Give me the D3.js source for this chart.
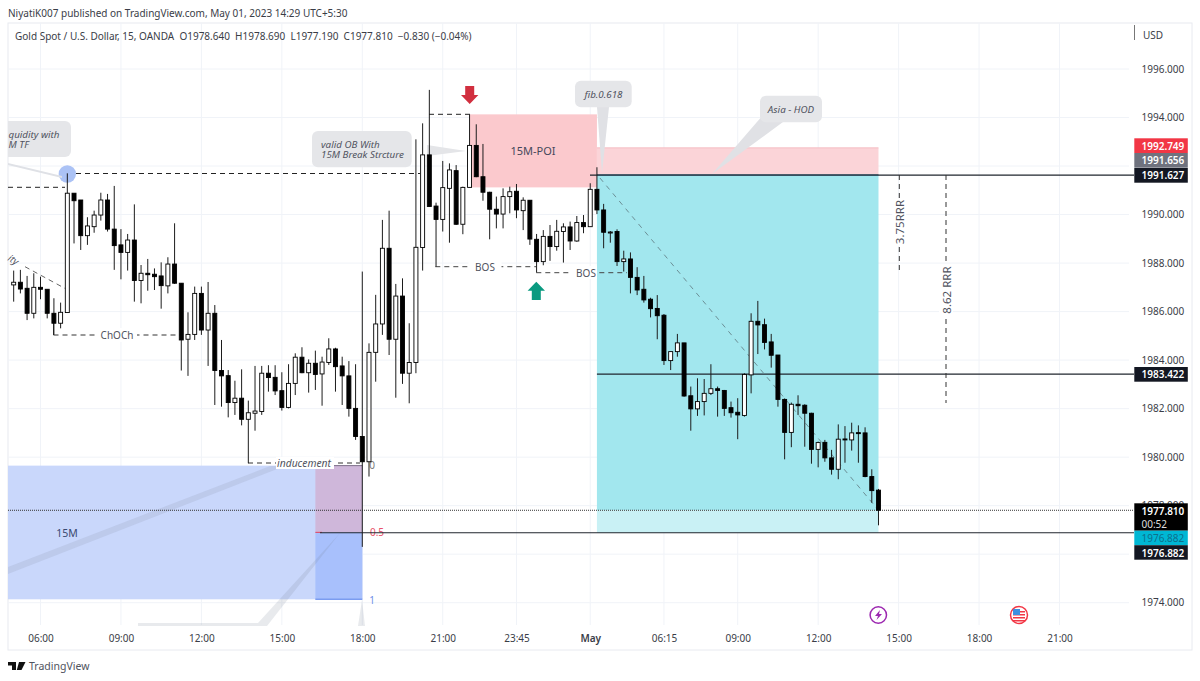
<!DOCTYPE html>
<html>
<head>
<meta charset="utf-8">
<script src="https://cdn.jsdelivr.net/npm/d3@7/dist/d3.min.js"></script>
<style>
  html, body { margin: 0; padding: 0; background: #fff; }
  svg { display: block; }
  text { font-family: "Noto Sans", sans-serif; fill: #3a3d47; }
  .note { font-style: italic; font-size: 9.8px; fill: #50535e; }
  .draw { font-size: 10px; fill: #50535e; }
</style>
</head>
<body>
<svg id="chart" width="1200" height="681"></svg>
<script>
// 15 minute bars, the first one is 05:00
var opens = [
  1987.10,1987.21,1986.96,1985.93,1987.00,1986.92,1985.93,1985.52,1985.96,1990.88,
  1990.60,1989.13,1989.50,1989.98,1990.60,1989.40,1988.75,1988.44,1988.95,1987.28,
  1987.58,1987.54,1987.47,1987.06,1987.96,1987.17,1984.86,1985.06,1986.75,1985.24,
  1985.93,1983.57,1983.36,1982.25,1982.43,1981.56,1981.81,1981.88,1983.46,1983.29,
  1982.74,1982.05,1983.04,1984.12,1983.48,1983.87,1983.43,1983.90,1984.46,1983.76,
  1983.35,1982.01,1980.85,1979.81,1984.32,1985.49,1988.61,1984.86,1986.64,1983.46,
  1983.90,1988.64,1992.46,1990.35,1989.80,1991.08,1991.81,1989.60,1991.12,1992.85,
  1991.56,1990.92,1990.22,1990.02,1990.74,1990.96,1990.16,1990.59,1988.98,1988.06,
  1989.10,1988.68,1989.30,1989.49,1988.91,1989.67,1989.50,1991.04,1990.19,1989.25,
  1989.30,1988.06,1988.17,1987.41,1986.92,1986.51,1986.13,1985.85,1983.98,1984.35,
  1984.71,1982.53,1981.99,1982.29,1982.63,1982.82,1982.75,1982.04,1981.85,1981.72,
  1983.39,1985.60,1985.46,1984.75,1984.21,1982.38,1981.02,1982.18,1982.14,1981.81,
  1980.32,1980.61,1979.97,1979.50,1980.75,1980.71,1981.01,1981.00,1979.20,1978.64
];
var highs = [
  1987.69,1987.72,1987.47,1987.58,1987.44,1986.92,1986.55,1986.37,1991.70,1990.88,
  1990.60,1989.89,1990.16,1990.90,1990.85,1991.18,1989.40,1989.20,1990.42,1987.92,
  1988.17,1987.78,1988.03,1988.24,1989.64,1987.17,1985.97,1987.03,1987.03,1987.22,
  1986.27,1984.83,1983.59,1983.15,1983.62,1982.33,1983.76,1983.76,1983.79,1983.79,
  1983.50,1983.83,1984.28,1984.53,1984.03,1984.39,1984.14,1984.90,1984.51,1984.14,
  1983.96,1983.83,1987.65,1984.69,1986.69,1989.78,1990.16,1987.14,1987.37,1985.52,
  1993.10,1993.76,1995.14,1990.49,1992.21,1992.11,1992.04,1991.15,1994.13,1993.72,
  1992.91,1990.94,1990.74,1991.08,1991.15,1991.26,1990.71,1990.60,1989.20,1989.36,
  1989.57,1989.78,1989.64,1989.71,1989.94,1989.98,1991.29,1991.95,1990.44,1989.32,
  1989.39,1988.51,1988.44,1987.83,1987.47,1986.57,1986.68,1985.90,1984.35,1985.08,
  1984.71,1982.91,1983.25,1983.22,1983.83,1982.91,1982.77,1982.29,1982.43,1983.46,
  1985.93,1986.44,1985.71,1985.08,1984.21,1982.42,1982.25,1982.55,1982.18,1981.83,
  1980.64,1980.71,1980.30,1981.35,1981.28,1981.42,1981.31,1981.23,1979.50,1978.69
];
var lows = [
  1986.41,1986.75,1985.65,1985.72,1986.51,1985.72,1985.04,1985.31,1985.96,1988.81,
  1988.54,1988.75,1989.25,1989.75,1989.30,1987.72,1987.33,1987.69,1986.41,1986.34,
  1986.86,1986.89,1986.12,1986.75,1987.14,1983.57,1983.35,1984.83,1985.04,1983.76,
  1982.15,1982.08,1981.64,1981.74,1981.31,1979.75,1981.09,1981.74,1982.70,1982.56,
  1981.92,1982.01,1982.56,1983.46,1982.66,1982.77,1982.12,1983.80,1982.70,1982.15,
  1981.67,1980.71,1976.30,1979.20,1983.11,1985.04,1984.21,1982.45,1983.02,1982.22,
  1983.46,1987.69,1990.33,1987.85,1989.30,1988.84,1989.57,1989.19,1991.12,1991.54,
  1990.57,1988.98,1989.43,1989.43,1990.05,1989.85,1989.36,1988.75,1987.61,1987.91,
  1988.09,1988.51,1988.02,1988.54,1988.88,1989.23,1989.50,1990.02,1988.61,1988.84,
  1987.88,1987.65,1986.75,1986.68,1986.37,1985.76,1984.86,1983.80,1983.59,1984.14,
  1982.49,1981.09,1981.70,1981.72,1982.56,1981.67,1981.70,1981.63,1980.74,1981.67,
  1982.63,1984.25,1984.44,1983.69,1982.08,1979.91,1980.41,1981.74,1980.43,1979.73,
  1979.58,1979.81,1979.28,1979.09,1979.77,1980.27,1979.77,1979.17,1978.12,1977.19
];
var closes = [
  1987.21,1986.93,1985.93,1987.00,1986.92,1985.93,1985.52,1985.97,1990.88,1990.57,
  1989.13,1989.53,1989.98,1990.60,1989.40,1988.72,1988.44,1988.95,1987.28,1987.58,
  1987.52,1987.44,1987.07,1987.96,1987.17,1984.83,1985.06,1986.75,1985.24,1985.93,
  1983.57,1983.35,1982.25,1982.43,1981.56,1981.83,1981.90,1983.46,1983.28,1982.73,
  1982.05,1983.04,1984.12,1983.48,1983.87,1983.41,1983.92,1984.46,1983.73,1983.35,
  1982.01,1980.85,1979.81,1984.32,1985.49,1988.61,1984.86,1986.64,1983.46,1983.90,
  1988.65,1992.46,1990.33,1989.80,1991.11,1991.84,1989.60,1991.12,1992.85,1991.56,
  1990.92,1990.22,1990.02,1990.74,1990.94,1990.19,1990.59,1988.99,1988.06,1989.10,
  1988.68,1989.31,1989.49,1988.91,1989.67,1989.50,1991.04,1990.19,1989.27,1989.28,
  1988.06,1988.17,1987.41,1986.89,1986.48,1986.12,1985.83,1983.98,1984.35,1984.71,
  1982.52,1981.99,1982.29,1982.63,1982.82,1982.75,1982.01,1981.83,1981.74,1983.41,
  1985.60,1985.45,1984.73,1984.20,1982.38,1981.02,1982.18,1982.12,1981.81,1980.32,
  1980.60,1979.97,1979.50,1980.74,1980.71,1981.00,1980.97,1979.20,1978.62,1977.81
];

var priceTicks = [1974,1976,1978,1980,1982,1984,1986,1988,1990,1992,1994,1996];
var hiddenPriceLabels = [1976, 1992];   // these sit fully behind the price tags
var timeTickBars = [4,16,28,40,52,64,75,86,97,108,120,132,144,156];
var timeTickLabels = ["06:00","09:00","12:00","15:00","18:00","21:00","23:45","May","06:15","09:00","12:00","15:00","18:00","21:00"];

var targetLevels = [1991.627, 1983.422, 1976.882];
var poiHigh = 1994.13, poiLow = 1991.12;
var asiaHigh = 1992.749, entry = 1991.627, lastClose = 1977.81, stop = 1976.882;
var fibTop = 1979.65, fibMid = 1976.9, fibBottom = 1974.14;

var svg = d3.select("#chart");

var x = d3.scaleLinear().domain([4, 156]).range([40.5, 1059.5]);
var y = d3.scaleLinear().domain([1974, 1996]).range([602.7, 69]);

var left = 8, right = 1134, top_ = 23, bottom = 625;

// frame
svg.append("rect").attr("x", left).attr("y", top_).attr("width", 1184).attr("height", 627)
    .attr("fill", "#fff").attr("stroke", "#e8eaf0");

var xAxis = d3.axisBottom(x).tickValues(timeTickBars)
    .tickFormat(function(d, i) { return timeTickLabels[i]; }).tickSize(0);
var yAxis = d3.axisRight(y).tickValues(priceTicks)
    .tickFormat(function(d) { return hiddenPriceLabels.indexOf(d) >= 0 ? "" : d.toFixed(3); }).tickSize(0);

// grid
svg.append("g").selectAll("line").data(timeTickBars).enter().append("line")
    .attr("x1", x).attr("x2", x).attr("y1", top_).attr("y2", bottom)
    .attr("stroke", "#f0f3f8");
svg.append("g").selectAll("line").data(priceTicks).enter().append("line")
    .attr("x1", left).attr("x2", right - 5).attr("y1", y).attr("y2", y)
    .attr("stroke", "#f0f3f8");

function box(bar0, bar1, p0, p1, color) {
    svg.append("rect")
        .attr("x", bar0 === null ? left : x(bar0)).attr("y", y(p0))
        .attr("width", x(bar1) - (bar0 === null ? left : x(bar0)))
        .attr("height", y(p1) - y(p0)).attr("fill", color);
}
function poly(points, color) {
    svg.append("polygon").attr("points", points).attr("fill", color);
}
function dashed(x1, y1, x2, y2, color, dash) {
    svg.append("line").attr("x1", x1).attr("y1", y1).attr("x2", x2).attr("y2", y2)
        .attr("stroke", color || "#222").attr("stroke-dasharray", dash || "5 4");
}
function label(str, px, py, cls, anchor, color, size) {
    var t = svg.append("text").attr("x", px).attr("y", py).attr("class", cls || "draw")
        .attr("text-anchor", anchor || "middle").attr("dominant-baseline", "central").text(str);
    if (color) t.style("fill", color);
    if (size) t.style("font-size", size + "px");
    return t;
}

// 15M zone and fib box
box(null, 52, fibTop, fibBottom, "#c9d7fb");
box(45, 52, fibTop, fibMid, "#cfb7da");
box(45, 52, fibMid, fibBottom, "#a8c0fc");
svg.append("line").attr("x1", x(45)).attr("x2", x(52)).attr("y1", y(fibBottom)).attr("y2", y(fibBottom))
    .attr("stroke", "#7b9cf0").attr("stroke-width", 1.5);
svg.append("line").attr("x1", x(45)).attr("x2", x(52)).attr("y1", y(fibTop)).attr("y2", y(fibTop))
    .attr("stroke", "#7c6d86");
svg.append("line").attr("x1", x(45)).attr("x2", 322).attr("y1", y(fibMid)).attr("y2", y(fibMid))
    .attr("stroke", "#e0405a");
label("15M", 67, 532.5, "draw", "middle", "#3a4a70", 10.5);
label("0", 372, 465, "draw", "middle", "#777");
label("0.5", 377, 532, "draw", "middle", "#e8506a");
label("1", 372, 599.5, "draw", "middle", "#6f8fe8");

// callout tails that come from notes off the chart
poly("8,567 8,574 285,466 270,466", "rgba(120,130,150,0.15)");
poly("340,533 258,623 138,623 138,626 267,626", "rgba(120,130,150,0.17)");
poly("358,626 365,626 362,600", "rgba(120,130,150,0.17)");

// POI and trade boxes
box(68, 87, poiHigh, poiLow, "#fbc9cd");
label("15M-POI", 533, 150, "draw", "middle", "#44475a", 11);
box(87, 129, asiaHigh, entry, "#fbd4d8");
box(87, 129, entry, lastClose, "#a2e7ee");
box(87, 129, lastClose, stop, "#c9f1f5");
svg.append("line").attr("x1", x(87)).attr("x2", x(129)).attr("y1", y(asiaHigh)).attr("y2", y(asiaHigh))
    .attr("stroke", "#f5bcc3");

// target lines
var lineStarts = [590, x(87), 320];
svg.append("g").selectAll("line").data(targetLevels).enter().append("line")
    .attr("x1", function(d, i) { return lineStarts[i]; }).attr("x2", right)
    .attr("y1", y).attr("y2", y).attr("stroke", "#20262e").attr("stroke-width", 1.1);
svg.append("line").attr("x1", x(87)).attr("x2", x(129)).attr("y1", y(entry)).attr("y2", y(entry))
    .attr("stroke", "#35505f").attr("stroke-width", 1.8);

// last price line
svg.append("line").attr("x1", left).attr("x2", right).attr("y1", y(lastClose)).attr("y2", y(lastClose))
    .attr("stroke", "#333").attr("stroke-dasharray", "1 1");

// diagonal
dashed(x(87) + 3, 178, x(129), y(lastClose), "#6c8f96", "5 5");

// structure lines
dashed(left, 187.3, 65, 187.3);
dashed(67, 173.5, 420, 173.5);
svg.append("circle").attr("cx", x(8)).attr("cy", 174).attr("r", 8.7).attr("fill", "#abc2f5");
poly("8,163 8,165 62,178 62,176", "#dfe1e6");
dashed(25, 266.7, 71, 291.7, "#666");
dashed(53.5, 335, 180, 335, "#333");
dashed(248, 463, 360, 463, "#333");
dashed(429, 114.3, 470, 114.3);
dashed(435.3, 266.7, 536, 266.7, "#444");
dashed(536.3, 272.7, 627, 272.7, "#444");
svg.append("line").attr("x1", 53.5).attr("x2", 53.5).attr("y1", 320).attr("y2", 335).attr("stroke", "#333");

// grey note tails under the candles
poly("427,145 427,156 466,151", "#e4e5e8");
poly("597,107 609,107 602,173", "#e0e1e5");
poly("763,115 783,122 712,174", "#e0e1e5");

// candles
var bars = d3.range(opens.length);
svg.append("g").selectAll("line").data(bars).enter().append("line")
    .attr("x1", x).attr("x2", x)
    .attr("y1", function(i) { return y(highs[i]); })
    .attr("y2", function(i) { return y(lows[i]); })
    .attr("stroke", "#1c1c1c").attr("stroke-width", 1);
svg.append("g").selectAll("rect").data(bars).enter().append("rect")
    .attr("x", function(i) { return x(i) - 2; })
    .attr("width", 4)
    .attr("y", function(i) { return y(Math.max(opens[i], closes[i])); })
    .attr("height", function(i) { return Math.max(1, Math.abs(y(opens[i]) - y(closes[i]))); })
    .attr("fill", function(i) { return closes[i] >= opens[i] ? "#fff" : "#000"; })
    .attr("stroke", "#000").attr("stroke-width", 0.9);

// text on the structure lines
function tagged(str, px, py, w) {
    svg.append("rect").attr("x", px - w / 2).attr("y", py - 7).attr("width", w).attr("height", 14).attr("fill", "#fff");
    label(str, px, py);
}
tagged("ChOCh", 117, 335, 40);
tagged("BOS", 485, 266.5, 33);
svg.append("rect").attr("x", 569).attr("y", 266).attr("width", 28).attr("height", 13).attr("fill", "#fff");
label("BOS", 586, 272.5);
svg.append("rect").attr("x", 276).attr("y", 457).attr("width", 58).attr("height", 12).attr("fill", "#fff");
label("inducement", 304, 463, "note").style("font-size", "10.3px");

// notes
function note(x0, y0, x1, y1, lines, tx, anchor) {
    svg.append("rect").attr("x", x0).attr("y", y0).attr("width", x1 - x0).attr("height", y1 - y0)
        .attr("rx", 6).attr("fill", "#e5e6e9");
    var mid = (y0 + y1) / 2 - (lines.length - 1) * 5;
    lines.forEach(function(s, i) {
        label(s, tx, mid + i * 10, "note", anchor);
    });
}
note(312, 131, 411.7, 167.3, ["valid OB With", "15M Break Strcture"], 321, "start");
note(575, 80.7, 631.7, 107.3, ["fib.0.618"], 603.5);
note(760, 95.7, 822, 122.3, ["Asia - HOD"], 791);

// this note runs off the left edge of the chart, only its end shows
svg.append("path").attr("d", "M8,121 H65 a6,6 0 0 1 6,6 V151 a6,6 0 0 1 -6,6 H8 Z").attr("fill", "#e5e6e9");
label("quidity with", 8.5, 134.5, "note", "start");
label("M TF", 8.5, 144.5, "note", "start");
label("ity", 9, 257, "note", "start").attr("transform", "rotate(33 9 257)");

// risk reward
dashed(899.3, 175, 899.3, 271, "#333");
dashed(946, 175, 946, 403, "#333");
[["3.75RRR", 899.3, 222, 48], ["8.62 RRR", 946, 290, 52]].forEach(function(d) {
    svg.append("rect").attr("x", d[1] - 7).attr("y", d[2] - d[3] / 2).attr("width", 14).attr("height", d[3]).attr("fill", "#fff");
    label(d[0], d[1], d[2], "draw", "middle", "#50535e", 11.5).attr("transform", "rotate(-90 " + d[1] + " " + d[2] + ")");
});

// arrows
function arrow(cx, yTip, yEnd, color) {
    var d = yEnd > yTip ? 1 : -1, neck = yTip + d * 9;
    poly([[cx, yTip], [cx + 8.7, neck], [cx + 4.5, neck], [cx + 4.5, yEnd], [cx - 4.5, yEnd], [cx - 4.5, neck], [cx - 8.7, neck]].join(" "), color);
}
arrow(469.7, 104, 86, "#d12f3f");
arrow(536.3, 281.7, 300, "#0a9a80");

// axes
var xg = svg.append("g").attr("transform", "translate(0,632)").call(xAxis);
xg.select(".domain").remove();
xg.selectAll("text").attr("dy", "0.71em").style("font-size", "10px").style("font-family", '"Noto Sans", sans-serif').style("fill", "#3a3d47");
xg.selectAll("text").filter(function(d, i) { return timeTickLabels[i] === "May"; }).style("font-weight", "600");
var yg = svg.append("g").attr("transform", "translate(1141.5,0)").call(yAxis);
yg.select(".domain").remove();
yg.selectAll("text").attr("x", 0).style("font-size", "10px").style("font-family", '"Noto Sans", sans-serif').style("fill", "#3a3d47");

svg.append("line").attr("x1", 1134.5).attr("x2", 1134.5).attr("y1", 25).attr("y2", 40).attr("stroke", "#777");
label("USD", 1143, 35, "draw", "start", "#3a3d47", 10);

// price tags
var tagColors = ["#f23645", "#6f727e", "#131722", "#131722"];
var tagPrices = ["1992.749", "1991.656", "1991.627", "1983.422"];
var tagTops = [138.3, 153, 168, 367];
tagPrices.forEach(function(p, i) {
    svg.append("rect").attr("x", 1134.3).attr("y", tagTops[i]).attr("width", 53.5).attr("height", 14.7).attr("fill", tagColors[i]);
    label(p, 1141.5, tagTops[i] + 7.3, "draw", "start", "#fff").style("font-weight", 600);
});
svg.append("rect").attr("x", 1134.3).attr("y", 503.3).attr("width", 53.5).attr("height", 27.4).attr("fill", "#000");
label("1977.810", 1141.5, 511, "draw", "start", "#fff").style("font-weight", 600);
label("00:52", 1141.5, 523.5, "draw", "start", "#ddd");
svg.append("rect").attr("x", 1134.3).attr("y", 530.7).attr("width", 53.5).attr("height", 14.5).attr("fill", "#00b7d4");
label("1976.882", 1141.5, 538, "draw", "start", "#0d6f8c");
svg.append("rect").attr("x", 1134.3).attr("y", 545.2).attr("width", 53.5).attr("height", 14.5).attr("fill", "#131722");
label("1976.882", 1141.5, 552.5, "draw", "start", "#fff").style("font-weight", 600);

// events
svg.append("circle").attr("cx", 878.3).attr("cy", 615).attr("r", 8.2).attr("fill", "#fff").attr("stroke", "#9c27b0").attr("stroke-width", 1.5);
poly("880,610 875,616 878,616 876.5,620 882,614 879,614", "#9c27b0");
svg.append("circle").attr("cx", 1019).attr("cy", 615).attr("r", 8.5).attr("fill", "#fff").attr("stroke", "#f23645").attr("stroke-width", 1.5);
[611, 614, 617, 620].forEach(function(py) {
    svg.append("rect").attr("x", 1013).attr("y", py).attr("width", 12).attr("height", 1.5).attr("fill", "#f23645");
});
svg.append("rect").attr("x", 1013).attr("y", 609).attr("width", 7).attr("height", 6).attr("fill", "#3d8fe0");

// header and footer
label("NiyatiK007 published on TradingView.com, May 01, 2023 14:29 UTC+5:30", 8, 13, "draw", "start", "#3a3d47", 10);
label("Gold Spot / U.S. Dollar, 15, OANDA  O1978.640  H1978.690  L1977.190  C1977.810  \u22120.830 (\u22120.04%)", 15, 36, "draw", "start", "#3a3d47", 10)
    .style("white-space", "pre");
poly("8,662 16,662 16,670 12,670 12,665.5 8,665.5", "#111");
poly("19,662 25.5,662 21.5,670 16.8,670", "#111");
label("TradingView", 29, 666, "draw", "start", "#50535e", 10.5);
</script>
</body>
</html>
